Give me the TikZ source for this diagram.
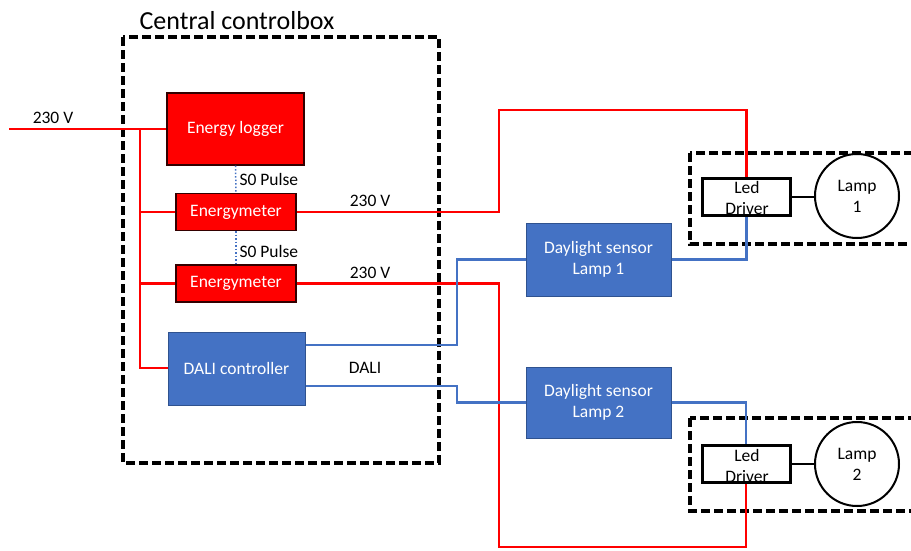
\documentclass[tikz,border=0pt]{standalone}
\usepackage{fontspec}
\setmainfont{Carlito}
\definecolor{pwr}{HTML}{FF0000}
\definecolor{dali}{HTML}{4472C4}
\definecolor{daliedge}{HTML}{2F528F}
\begin{document}
\begin{tikzpicture}[x=1pt,y=-1pt,
  txt/.style={font=\fontsize{17.5}{21}\selectfont},
  redbox/.style={draw=black!80!red, line width=1.3pt, fill=pwr, text=white, txt, inner sep=0pt},
  bluebox/.style={draw=daliedge, line width=1pt, fill=dali, text=white, txt, inner sep=0pt, align=center},
  redline/.style={draw=pwr, line width=2.8pt},
  blueline/.style={draw=dali, line width=2.3pt},
  pulse/.style={draw=dali, dotted, line width=1.5pt},
  frame/.style={draw=black, line width=3.4pt, dash pattern=on 9pt off 4pt},
  drvbox/.style={draw=black, line width=3pt, fill=white, minimum width=88pt, minimum height=37pt, inner sep=0pt},
  lampc/.style={draw=black, line width=2pt, circle, minimum size=84pt, inner sep=0pt, align=center, txt},
  lbl/.style={txt, text=black}]
\useasboundingbox (0,0) rectangle (911,550);
\fill[white] (0,0) rectangle (911,550);

% frames
\draw[frame] (123,37) rectangle (439,463);
\draw[frame] (690,153) rectangle (925,244);
\draw[frame] (690,418) rectangle (925,511);
\node[font=\fontsize{26}{30}\selectfont] (title) at (237,21) {Central controlbox};

% boxes
\node[redbox, minimum width=137pt, minimum height=72pt] (logger) at (235.5,129) {Energy logger};
\node[redbox, minimum width=120pt, minimum height=37pt] (em1) at (236,212) {Energymeter};
\node[redbox, minimum width=120pt, minimum height=37pt] (em2) at (236,283.5) {Energymeter};
\node[bluebox, minimum width=137pt, minimum height=73pt] (dalic) at (236.5,368.5) {DALI controller};
\node[bluebox, minimum width=145pt, minimum height=73pt] (ds1) at (598.5,259.5) {Daylight sensor\\Lamp 1};
\node[bluebox, minimum width=145pt, minimum height=71pt] (ds2) at (598.5,402.5) {Daylight sensor\\Lamp 2};

% coordinates
\coordinate (in) at (9,129);
\coordinate (bus) at (140,129);
\coordinate (r1) at (499,110);
\coordinate (r2) at (499,547);
\coordinate (j1) at (457,259.5);
\coordinate (j2) at (457,402.5);

% drivers and lamps
\node[drvbox] (ld1) at (746.5,197) {};
\node[drvbox] (ld2) at (746,464) {};
\node[lampc] (lamp1) at (857,196) {Lamp\\1};
\node[lampc] (lamp2) at (857,464) {Lamp\\2};

% power lines
\draw[redline] (in) -- (logger.west);
\draw[redline] (bus) |- ([yshift=0.5pt]dalic.west);
\draw[redline] (bus |- em1.west) -- (em1.west);
\draw[redline] (bus |- em2.west) -- (em2.west);
\draw[redline] (em1.east) -| (r1) -| (ld1.north);
\draw[redline] (em2.east) -| (r2) -| (ld2.south);

% dali lines
\draw[blueline] ([yshift=23.5pt]dalic.east) -| (j1) -- (ds1.west);
\draw[blueline] ([yshift=-17.5pt]dalic.east) -| (j2) -- (ds2.west);
\draw[blueline] (ds1.east) -| (ld1.south);
\draw[blueline] (ds2.east) -| (ld2.north);

% pulse lines
\draw[pulse] (logger.south) -- (em1.north);
\draw[pulse] (em1.south) -- (em2.north);

% driver to lamp
\draw[black, line width=2pt] (ld1.east) -- (ld1.east -| lamp1.west);
\draw[black, line width=2pt] (ld2.east) -- (ld2.east -| lamp2.west);

% driver texts (drawn on top)
\node[lbl, align=center] (ld1t) at (747,198) {Led\\Driver};
\node[lbl, align=center] (ld2t) at (747,466) {Led\\Driver};

% labels
\node[lbl] (v0) at (53,118) {230 V};
\node[lbl] (v1) at (370,201) {230 V};
\node[lbl] (v2) at (370,273) {230 V};
\node[lbl, anchor=west] (p1) at (236,179) {S0 Pulse};
\node[lbl, anchor=west] (p2) at (236,251) {S0 Pulse};
\node[lbl] (dl) at (365,368) {DALI};
\end{tikzpicture}
\end{document}
